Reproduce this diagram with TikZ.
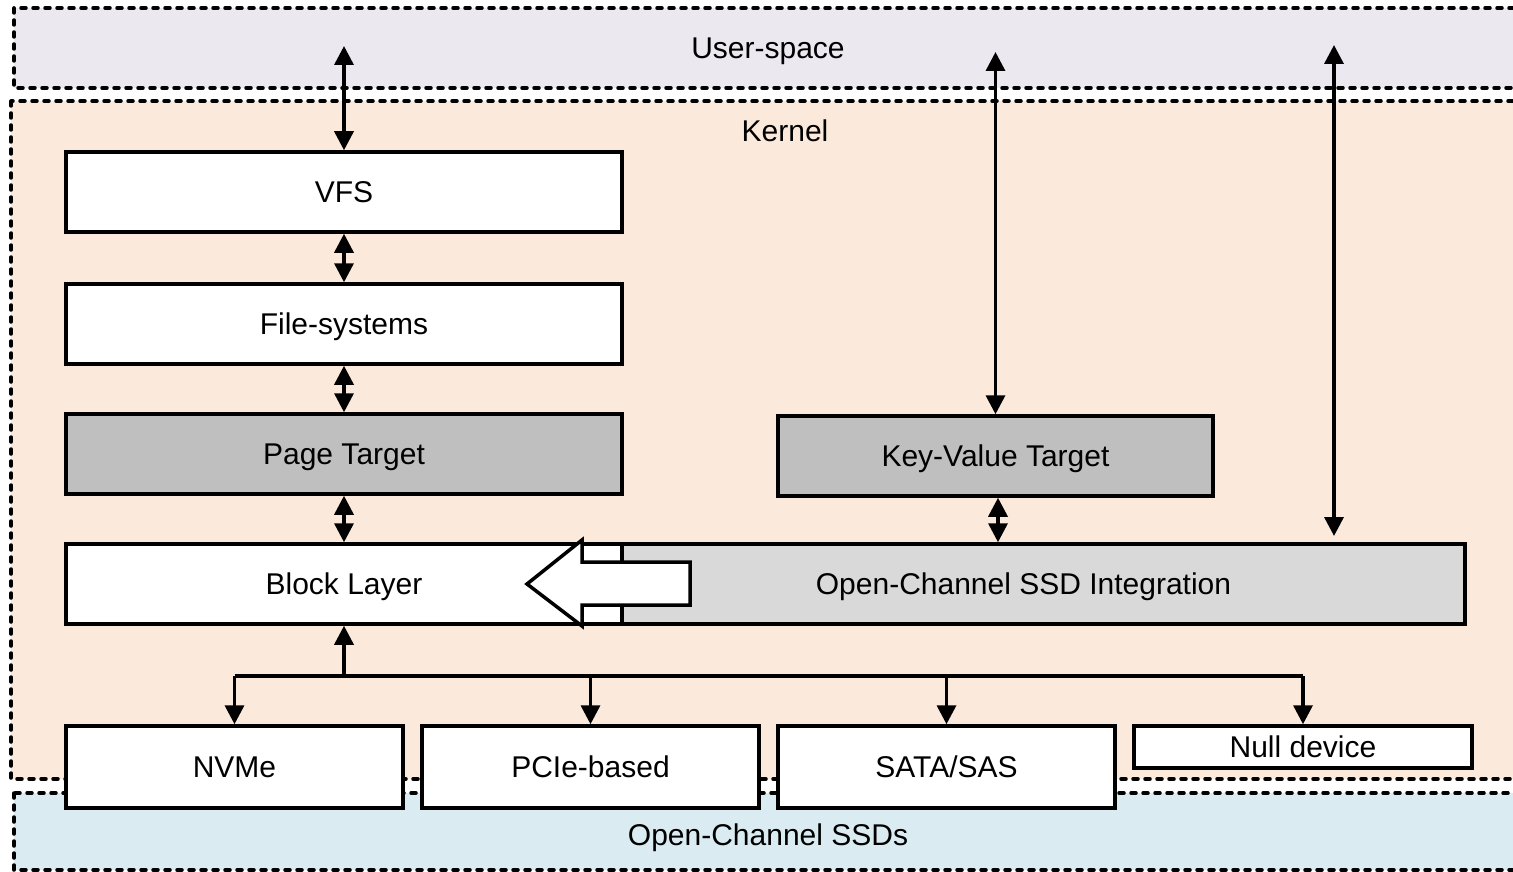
\documentclass[tikz,border=0pt]{standalone}
\usepackage{fontspec}
\setmainfont{Liberation Sans}
\usetikzlibrary{arrows.meta}
\definecolor{userfill}{RGB}{235,232,240}
\definecolor{kernfill}{RGB}{251,233,219}
\definecolor{ssdfill}{RGB}{218,236,242}
\definecolor{darkbox}{RGB}{191,191,191}
\definecolor{lightbox}{RGB}{217,217,217}
\begin{document}
\begin{tikzpicture}[x=1pt,y=-1pt,
    box/.style={draw,line width=3.5pt,fill=white,inner sep=0pt,text height=21.5pt,text depth=0pt,
        minimum width=556pt,minimum height=80pt,font=\fontsize{30}{36}\selectfont},
    region/.style={draw,line width=3.5pt,line cap=round,dash pattern=on 5pt off 7pt},
    tag/.style={inner sep=0pt,text height=21.5pt,text depth=0pt,font=\fontsize{30}{36}\selectfont},
    dbl/.style={line width=3.5pt,{Triangle[length=19pt,width=19pt]}-{Triangle[length=19pt,width=19pt]}},
    feed/.style={line width=3.5pt,-{Triangle[length=19pt,width=19pt]}}
    ]
\clip (0,0) rectangle (1513,872);
% layers
\draw[region,fill=userfill] (14,8) rectangle (1530,88);
\draw[region,fill=kernfill] (11,101) rectangle (1530,779);
\draw[region,fill=ssdfill] (14,793) rectangle (1530,870);
\node[tag] (ulab) at (768,48) {User-space};
\node[tag] (klab) at (785,131) {Kernel};
\node[tag] (slab) at (768,835) {Open-Channel SSDs};
% kernel stack
\node[box] (vfs) at (344,192) {VFS};
\node[box] (fs) at (344,324) {File-systems};
\node[box,fill=darkbox] (page) at (344,454) {Page Target};
\node[box,fill=lightbox,minimum width=883pt] (integ) at (1023.5,584) {Open-Channel SSD Integration};
\node[box] (block) at (344,584) {Block Layer};
\node[box,fill=darkbox,minimum width=435pt] (kv) at (995.5,456) {Key-Value Target};
\draw[line width=3.5pt,fill=white] (690,562) -- (582,562) -- (582,540) -- (527,584)
    -- (582,626) -- (582,605) -- (690,605) -- cycle;
% devices
\node[box,minimum width=337pt,minimum height=82pt] (nvme) at (234.5,767) {NVMe};
\node[box,minimum width=337pt,minimum height=82pt] (pcie) at (590.5,767) {PCIe-based};
\node[box,minimum width=337pt,minimum height=82pt] (sata) at (946.5,767) {SATA/SAS};
\node[box,minimum width=338pt,minimum height=42pt] (null) at (1303,747) {Null device};
% links
\coordinate (us1) at (344,46);
\coordinate (us2) at (995,52);
\coordinate (us3) at (1334,45);
\coordinate (ig3) at (1334,536);
\coordinate (bus) at (344,676);
\draw[dbl] (vfs.north) -- (us1);
\draw[dbl] (vfs) -- (fs);
\draw[dbl] (fs) -- (page);
\draw[dbl] (page) -- (block);
\draw[dbl] (kv.north) -- (kv.north |- us2);
\draw[dbl] ([xshift=2.5pt]kv.south) -- ([xshift=2.5pt]kv.south |- integ.north);
\draw[dbl] (us3) -- (ig3);
\draw[feed] (bus) -- (block.south);
\draw[line width=3.5pt] (nvme.north |- bus) -- (null.north |- bus);
\foreach \d in {nvme,pcie,sata,null}
    \draw[feed] (\d.north |- bus) -- (\d.north);
\end{tikzpicture}
\end{document}
